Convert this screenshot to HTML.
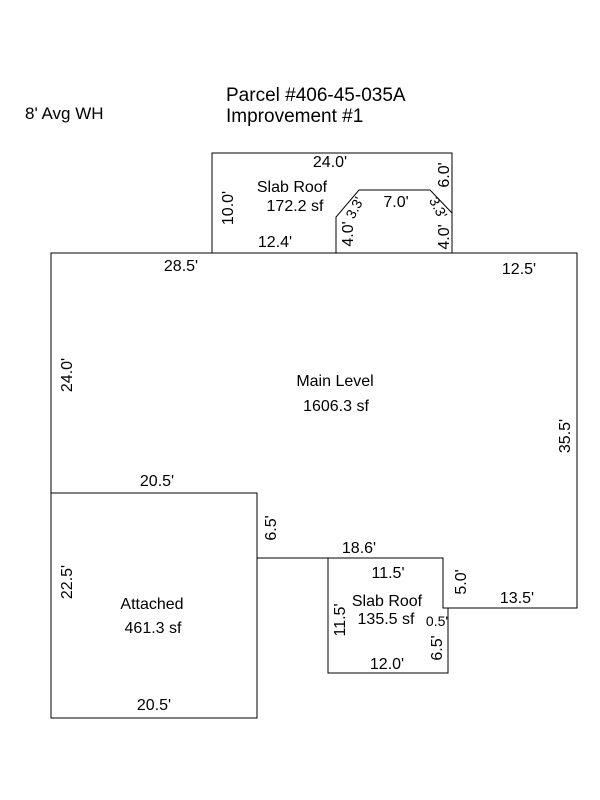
<!DOCTYPE html>
<html><head><meta charset="utf-8"><style>
html,body{margin:0;padding:0;background:#fff;}
svg{display:block;}
text{font-family:"Liberation Sans",Arial,sans-serif;font-size:16px;fill:#000;text-anchor:middle;}
.t{font-size:19px;text-anchor:start;}
</style></head><body>
<svg width="600" height="800" viewBox="0 0 600 800" xmlns="http://www.w3.org/2000/svg">
<g fill="none" stroke="#000" stroke-width="1">
<polyline points="212,253 212,153 452,153 452,253"/>
<polyline points="336,253 336,217 359,190 430,190 452,213"/>
<polygon points="51,253 577,253 577,608 443,608 443,558 257,558 257,493 51,493"/>
<polygon points="51,493 257,493 257,718 51,718"/>
<polyline points="328,558 328,673 448,673 448,608"/>
</g>
<text class="t" x="226" y="101">Parcel #406-45-035A</text>
<text class="t" x="226" y="122">Improvement #1</text>
<text x="25" y="119" style="text-anchor:start;font-size:17px">8' Avg WH</text>

<text x="330" y="167">24.0'</text>
<text x="292" y="192">Slab Roof</text>
<text x="295" y="211">172.2 sf</text>
<text x="396" y="207">7.0'</text>
<text x="275" y="247">12.4'</text>
<text transform="translate(233,208) rotate(-90)">10.0'</text>
<text transform="translate(449,175) rotate(-90)">6.0'</text>
<text transform="translate(353,234) rotate(-90)">4.0'</text>
<text transform="translate(449,237) rotate(-90)">4.0'</text>
<text transform="translate(359,210) rotate(-62)" style="font-size:14px">3.3'</text>
<text transform="translate(434,210) rotate(62)" style="font-size:14px">3.3'</text>

<text x="181" y="271">28.5'</text>
<text x="519" y="274">12.5'</text>
<text transform="translate(72,375) rotate(-90)">24.0'</text>
<text transform="translate(570,436) rotate(-90)">35.5'</text>
<text x="335" y="386">Main Level</text>
<text x="336" y="411">1606.3 sf</text>

<text x="157" y="486">20.5'</text>
<text transform="translate(276,528) rotate(-90)">6.5'</text>
<text x="359" y="553">18.6'</text>
<text x="152" y="609">Attached</text>
<text x="153" y="633">461.3 sf</text>
<text transform="translate(72,582) rotate(-90)">22.5'</text>
<text x="154" y="710">20.5'</text>

<text x="388" y="578">11.5'</text>
<text x="387" y="606">Slab Roof</text>
<text x="386" y="624">135.5 sf</text>
<text transform="translate(345,620) rotate(-90)">11.5'</text>
<text transform="translate(466,582) rotate(-90)">5.0'</text>
<text x="517" y="603">13.5'</text>
<text x="437" y="626" style="font-size:14px">0.5'</text>
<text transform="translate(442,648) rotate(-90)">6.5'</text>
<text x="387" y="669">12.0'</text>
</svg>
</body></html>
